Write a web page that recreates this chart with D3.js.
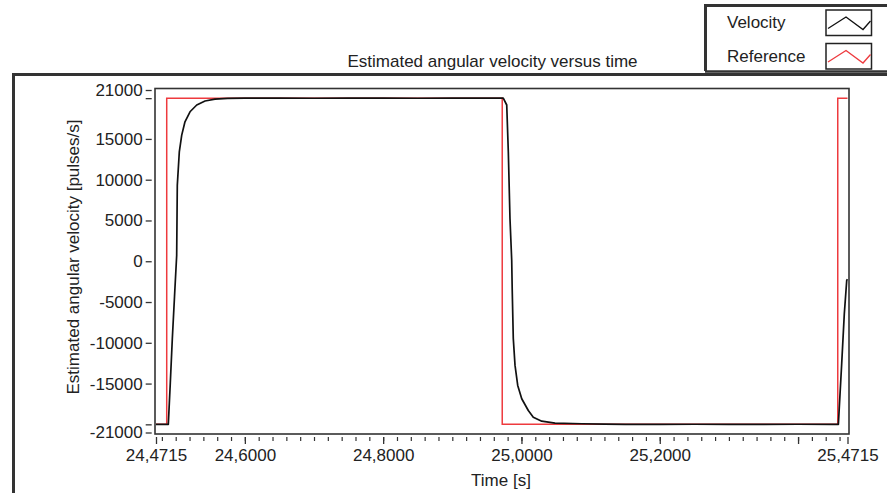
<!DOCTYPE html>
<html>
<head>
<meta charset="utf-8">
<script src="https://cdn.jsdelivr.net/npm/d3@7/dist/d3.min.js"></script>
<style>
  body { margin: 0; background: #fff; }
  svg text { font-family: 'Liberation Sans', Arial, sans-serif; fill: #222; }
</style>
</head>
<body>
<svg id="chart" width="887" height="493"></svg>
<script>
/* ----------  DATA  ---------- */
// reference square wave, drawn as step-after
const refTime = [24.4715, 24.4870, 24.9722, 25.4574, 25.4715]
const refValue = [-20000, 20000, -20000, 20000, 20000]

// estimated velocity
const velTime = [
  24.4715, 24.4800, 24.4893, 24.4922, 24.4951, 24.4983, 24.5014, 24.5023,
  24.5052, 24.5087, 24.5134, 24.5207, 24.5304, 24.5424, 24.5568, 24.5750,
  24.6000, 24.6500, 24.7000, 24.7500, 24.8000, 24.8500, 24.9000, 24.9500,
  24.9737, 24.9787, 24.9810, 24.9834, 24.9859, 24.9866, 24.9882, 24.9907,
  24.9946, 25.0004, 25.0099, 25.0171, 25.0293, 25.0485, 25.0871, 25.1200,
  25.1500, 25.2000, 25.2500, 25.3000, 25.3500, 25.4000, 25.4500, 25.4583,
  25.4631, 25.4669, 25.4704, 25.4715
]
const velValue = [
  -20000, -20010, -20000, -14900, -9500, -4300, 700, 9300,
  13400, 15470, 17100, 18330, 19160, 19650, 19890, 19970,
  20000, 20010, 19990, 20010, 20000, 19990, 20010, 20000,
  20000, 19160, 13420, 5240, 120, -3350, -9490, -12770,
  -15230, -16860, -18300, -19120, -19610, -19860, -19930, -19980,
  -20000, -20010, -19990, -20010, -20000, -19990, -20000, -20000,
  -12560, -6420, -2330, -2200
]

const yTickValues = [21000, 20000, 15000, 10000, 5000, 0, -5000, -10000, -15000, -20000, -21000]
const yTickLabels = ['21000', '', '15000', '10000', '5000', '0', '-5000', '-10000', '-15000', '', '-21000']
const xTickValues = [24.4715, 24.6, 24.8, 25.0, 25.2, 25.4, 25.4715]
const xTickLabels = ['24,4715', '24,6000', '24,8000', '25,0000', '25,2000', '', '25,4715']

const legendItems = [
  {label: 'Velocity', color: '#111'},
  {label: 'Reference', color: '#ee3a3e'}
]

/* ----------  SCALES  ---------- */
const svg = d3.select('#chart')

const x = d3.scaleLinear().domain([24.4715, 25.4715]).range([156, 847.5])
const y = d3.scaleLinear().domain([-21000, 21000]).range([432.5, 90])

/* ----------  OUTER FRAME  ---------- */
svg.append('path')
  .attr('d', 'M13.5,493 V74.5 H887')
  .attr('fill', 'none')
  .attr('stroke', '#333')
  .attr('stroke-width', 3)

/* ----------  TITLE  ---------- */
svg.append('text')
  .attr('x', 492.5)
  .attr('y', 67)
  .attr('text-anchor', 'middle')
  .style('font-size', '17px')
  .text('Estimated angular velocity versus time')

/* ----------  PLOT FRAME  ---------- */
svg.append('rect')
  .attr('x', 155)
  .attr('y', 88.5)
  .attr('width', 694)
  .attr('height', 345.5)
  .attr('fill', '#fff')
  .attr('stroke', '#333')
  .attr('stroke-width', 1.6)

/* ----------  AXES  ---------- */
const yAxis = svg.append('g')
  .attr('transform', 'translate(151.7,0)')
  .call(d3.axisLeft(y).tickValues(yTickValues).tickSize(6).tickPadding(3)
    .tickFormat((d, i) => yTickLabels[i]))
yAxis.selectAll('.tick line').attr('stroke', '#333').attr('stroke-width', 1.3)
yAxis.selectAll('text').style('font-size', '17px').attr('fill', '#222')

// minor ticks every 0.02 s
const xMinor = d3.range(24.48, 25.47, 0.02)
svg.append('g')
  .attr('transform', 'translate(0,437)')
  .call(d3.axisBottom(x).tickValues(xMinor).tickSize(4).tickFormat(''))
  .selectAll('.tick line').attr('stroke', '#333').attr('stroke-width', 1.2)

const xAxis = svg.append('g')
  .attr('transform', 'translate(0,437)')
  .call(d3.axisBottom(x).tickValues(xTickValues).tickSize(7).tickPadding(5)
    .tickFormat((d, i) => xTickLabels[i]))
xAxis.selectAll('.tick line').attr('stroke', '#333').attr('stroke-width', 1.3)
xAxis.selectAll('text').style('font-size', '17px').attr('fill', '#222')

svg.selectAll('.domain').remove()

/* axis titles */
svg.append('text')
  .attr('x', 501)
  .attr('y', 486)
  .attr('text-anchor', 'middle')
  .style('font-size', '17px')
  .text('Time [s]')

svg.append('text')
  .attr('transform', 'translate(79,257) rotate(-90)')
  .attr('text-anchor', 'middle')
  .style('font-size', '17px')
  .text('Estimated angular velocity [pulses/s]')

/* ----------  LINES  ---------- */
const refLine = d3.line()
  .x((d, i) => x(refTime[i]))
  .y(d => y(d))
  .curve(d3.curveStepAfter)

svg.append('path')
  .datum(refValue)
  .attr('d', refLine)
  .attr('fill', 'none')
  .attr('stroke', legendItems[1].color)
  .attr('stroke-width', 1.5)

const velLine = d3.line()
  .x((d, i) => x(velTime[i]))
  .y(d => y(d))

svg.append('path')
  .datum(velValue)
  .attr('d', velLine)
  .attr('fill', 'none')
  .attr('stroke', legendItems[0].color)
  .attr('stroke-width', 1.7)
  .attr('stroke-linejoin', 'round')

/* ----------  LEGEND  ---------- */
svg.append('path')
  .attr('d', 'M890,5.5 H705.5 V71')
  .attr('fill', '#fff')
  .attr('stroke', '#333')
  .attr('stroke-width', 3)
svg.append('line')
  .attr('x1', 705).attr('x2', 887)
  .attr('y1', 71.5).attr('y2', 71.5)
  .attr('stroke', '#333')
  .attr('stroke-width', 2.5)

const leg = svg.selectAll('.legend-item')
  .data(legendItems)
  .enter().append('g')
  .attr('class', 'legend-item')
  .attr('transform', (d, i) => `translate(0, ${i * 33.5})`)

leg.append('text')
  .attr('x', 727)
  .attr('y', 28)
  .style('font-size', '17px')
  .text(d => d.label)

leg.append('rect')
  .attr('x', 826)
  .attr('y', 10)
  .attr('width', 45.5)
  .attr('height', 25.5)
  .attr('fill', '#fff')
  .attr('stroke', '#222')
  .attr('stroke-width', 1.5)

leg.append('path')
  .attr('d', 'M828,28.5 L846,17 L863,29.5 L870.5,21')
  .attr('fill', 'none')
  .attr('stroke', d => d.color)
  .attr('stroke-width', 1.3)
</script>
</body>
</html>
